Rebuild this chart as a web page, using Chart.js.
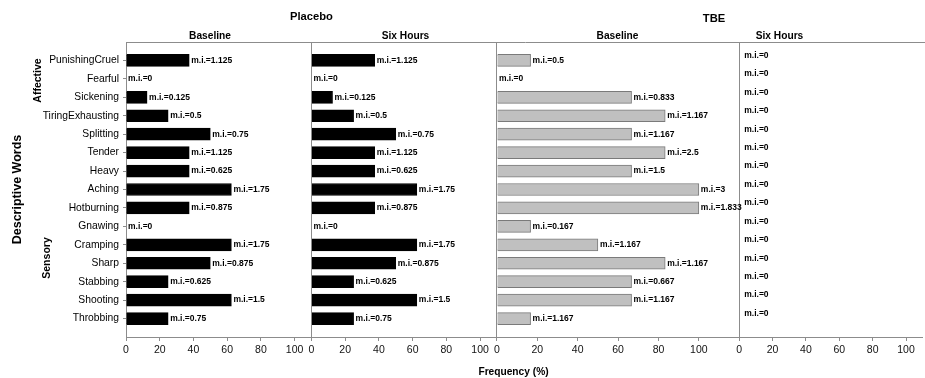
<!DOCTYPE html>
<html>
<head>
<meta charset="utf-8">
<script src="https://cdn.jsdelivr.net/npm/chart.js@4/dist/chart.umd.min.js"></script>
<style>
  html, body { margin: 0; padding: 0; background: #fff; }
  #wrap { width: 925px; height: 378px; position: relative; }
</style>
</head>
<body>
<div id="wrap"><canvas id="c"></canvas></div>
<script>
// ---------- DATA ----------
const categories = ['PunishingCruel','Fearful','Sickening','TiringExhausting','Splitting','Tender','Heavy','Aching','Hotburning','Gnawing','Cramping','Sharp','Stabbing','Shooting','Throbbing'];
const xTickValues = [0, 20, 40, 60, 80, 100];

const placeboBaseline = [37.5, 0, 12.5, 25, 50, 37.5, 37.5, 62.5, 37.5, 0, 62.5, 50, 25, 62.5, 25];
const placeboSixHours = [37.5, 0, 12.5, 25, 50, 37.5, 37.5, 62.5, 37.5, 0, 62.5, 50, 25, 62.5, 25];
const tbeBaseline     = [16.67, 0, 66.67, 83.33, 66.67, 83.33, 66.67, 100, 100, 16.67, 50, 83.33, 66.67, 66.67, 16.67];
const tbeSixHours     = [0, 0, 0, 0, 0, 0, 0, 0, 0, 0, 0, 0, 0, 0, 0];

const placeboBaselineMI = ['1.125','0','0.125','0.5','0.75','1.125','0.625','1.75','0.875','0','1.75','0.875','0.625','1.5','0.75'];
const placeboSixHoursMI = ['1.125','0','0.125','0.5','0.75','1.125','0.625','1.75','0.875','0','1.75','0.875','0.625','1.5','0.75'];
const tbeBaselineMI     = ['0.5','0','0.833','1.167','1.167','2.5','1.5','3','1.833','0.167','1.167','1.167','0.667','1.167','1.167'];
const tbeSixHoursMI     = ['0','0','0','0','0','0','0','0','0','0','0','0','0','0','0'];

// ---------- STYLE / LAYOUT ----------
const FONT = "'Liberation Sans', Arial, Helvetica, sans-serif";
const AXIS_GRAY = '#8c8c8c';
Chart.defaults.font.family = FONT;

const toPoints = vals => vals.map((v, i) => ({ x: v, y: i + 1 }));

function panelScale(max, weight) {
  return {
    type: 'linear', position: 'bottom', stack: 'panels', stackWeight: weight,
    min: 0, max: max, offset: false,
    afterBuildTicks: s => { s.ticks = xTickValues.map(v => ({ value: v })); },
    afterFit: s => { s.height = 41; },
    grid: {
      color: ctx => (ctx.tick && ctx.tick.value === 0) ? AXIS_GRAY : 'rgba(0,0,0,0)',
      lineWidth: 1, drawOnChartArea: true, drawTicks: true, tickLength: 4, tickColor: AXIS_GRAY, offset: false
    },
    border: { display: true, color: AXIS_GRAY, width: 1 },
    ticks: { font: { family: FONT, size: 10.5 }, color: '#111', padding: 3, maxRotation: 0, autoSkip: false }
  };
}

function barSet(vals, mi, axis, fill, border, dx, dy) {
  return {
    data: toPoints(vals), mi: mi, labelDx: dx, labelDy: dy,
    xAxisID: axis, yAxisID: 'y',
    backgroundColor: fill, borderColor: border, borderWidth: 1,
    barThickness: 12, grouped: false
  };
}

const headings = [
  { text: 'Placebo', x: 311.5, y: 17, size: 11.2 },
  { text: 'TBE', x: 714, y: 19, size: 11.2 },
  { text: 'Baseline', x: 210, y: 36.5, size: 10.2 },
  { text: 'Six Hours', x: 405.5, y: 36.5, size: 10.2 },
  { text: 'Baseline', x: 617.5, y: 36.5, size: 10.2 },
  { text: 'Six Hours', x: 779.5, y: 36.5, size: 10.2 },
  { text: 'Frequency (%)', x: 513.5, y: 372, size: 10.2 },
  { text: 'Affective', x: 38, y: 80.5, size: 10.5, rot: -Math.PI / 2 },
  { text: 'Sensory', x: 47, y: 258, size: 10.5, rot: -Math.PI / 2 }
];

const decorPlugin = {
  id: 'decor',
  beforeDatasetsDraw(chart) {
    const { ctx, chartArea } = chart;
    ctx.save();
    ctx.strokeStyle = AXIS_GRAY; ctx.lineWidth = 1;
    ctx.beginPath();
    ctx.moveTo(chartArea.left, Math.round(chartArea.top) + 0.5);
    ctx.lineTo(chart.width, Math.round(chartArea.top) + 0.5);
    ctx.stroke();
    ctx.restore();
  },
  afterDatasetsDraw(chart) {
    const ctx = chart.ctx;
    ctx.save();
    ctx.fillStyle = '#000';
    ctx.font = 'bold 8.5px ' + FONT;
    ctx.textAlign = 'left'; ctx.textBaseline = 'middle';
    chart.data.datasets.forEach((ds, di) => {
      const meta = chart.getDatasetMeta(di);
      meta.data.forEach((bar, i) => {
        ctx.fillText('m.i.=' + ds.mi[i], bar.x + ds.labelDx, bar.y + ds.labelDy);
      });
    });
    headings.forEach(h => {
      ctx.save();
      ctx.font = 'bold ' + h.size + 'px ' + FONT;
      ctx.textAlign = 'center'; ctx.textBaseline = 'middle';
      ctx.translate(h.x, h.y);
      if (h.rot) ctx.rotate(h.rot);
      ctx.fillText(h.text, 0, 0);
      ctx.restore();
    });
    ctx.restore();
  }
};

new Chart(document.getElementById('c'), {
  type: 'bar',
  data: {
    datasets: [
      barSet(placeboBaseline, placeboBaselineMI, 'x1', '#000000', '#000000', 2, 0),
      barSet(placeboSixHours, placeboSixHoursMI, 'x2', '#000000', '#000000', 2, 0),
      barSet(tbeBaseline, tbeBaselineMI, 'x3', '#c0c0c0', '#7a7a7a', 2, 0),
      barSet(tbeSixHours, tbeSixHoursMI, 'x4', '#c0c0c0', '#7a7a7a', 5, -5)
    ]
  },
  options: {
    indexAxis: 'y',
    responsive: true, maintainAspectRatio: false, animation: false,
    devicePixelRatio: 1,
    layout: { padding: { top: 42, left: 0, right: 0, bottom: 0 } },
    plugins: { legend: { display: false }, tooltip: { enabled: false } },
    scales: {
      y: {
        type: 'linear', position: 'left', min: 0, max: 16, reverse: true, offset: false,
        afterBuildTicks: s => { s.ticks = categories.map((c, i) => ({ value: i + 1 })); },
        afterFit: s => { s.width = 126; },
        ticks: {
          callback: v => categories[v - 1] || '',
          font: { family: FONT, size: 10.3 }, color: '#000', padding: 4, autoSkip: false
        },
        grid: { drawOnChartArea: false, drawTicks: true, tickLength: 3, tickColor: AXIS_GRAY, offset: false },
        border: { display: true, color: AXIS_GRAY, width: 1 },
        title: {
          display: true, text: 'Descriptive Words', color: '#000',
          font: { family: FONT, size: 12.5, weight: 'bold', lineHeight: 1.2 },
          padding: { top: 10.5, bottom: 0 }
        }
      },
      x1: panelScale(110, 186),
      x2: panelScale(110, 186),
      x3: panelScale(120, 243),
      x4: panelScale(110, 184)
    }
  },
  plugins: [decorPlugin]
});
</script>
</body>
</html>
